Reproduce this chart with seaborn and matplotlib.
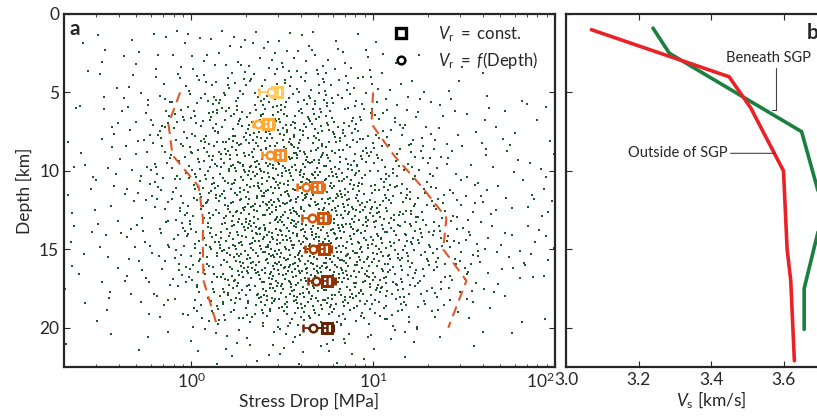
import numpy as np
import pandas as pd
import seaborn as sns
import matplotlib.pyplot as plt
from matplotlib.lines import Line2D

# ---- panel a: event cloud, counts per cell ----
# columns: 0.2-decade bins of log10(stress drop / MPa), rows: 2 km depth bins
sd_edges = [-0.7, -0.5, -0.3, -0.1, 0.1, 0.3, 0.5, 0.7, 0.9, 1.1, 1.3, 1.5, 1.7, 1.9, 2.0]
depth_edges = [1, 3, 5, 7, 9, 11, 13, 15, 17, 19, 21, 23]
counts = [
    [2, 3, 4, 5, 7, 8, 8, 5, 2, 1, 0, 0, 0, 0],
    [2, 4, 6, 9, 14, 18, 18, 14, 8, 4, 2, 2, 1, 0],
    [3, 5, 9, 15, 24, 30, 30, 24, 14, 8, 5, 4, 3, 1],
    [3, 6, 12, 22, 34, 40, 40, 32, 20, 12, 7, 5, 3, 1],
    [3, 6, 12, 22, 36, 46, 48, 40, 30, 18, 10, 6, 4, 2],
    [3, 5, 10, 20, 36, 48, 52, 48, 38, 26, 16, 8, 5, 3],
    [3, 5, 10, 20, 38, 50, 54, 50, 40, 28, 18, 10, 6, 3],
    [3, 5, 9, 18, 38, 52, 56, 52, 42, 30, 20, 11, 6, 3],
    [2, 4, 7, 12, 30, 44, 50, 46, 36, 22, 12, 6, 3, 2],
    [1, 2, 3, 6, 10, 14, 16, 15, 10, 6, 3, 2, 1, 0],
    [0, 0, 0, 1, 2, 3, 3, 3, 2, 1, 0, 0, 0, 0],
]

# binned medians (two rupture-velocity models)
bin_depth = [5, 7, 9, 11, 13, 15, 17, 20]
circ_sd = [2.73, 2.34, 2.70, 4.26, 4.60, 4.65, 4.84, 4.65]
sq_sd = [2.95, 2.66, 3.06, 4.90, 5.30, 5.36, 5.60, 5.56]
lo_sd = [2.37, 2.20, 2.44, 3.80, 4.09, 4.20, 4.40, 4.14]
hi_sd = [3.14, 2.87, 3.30, 5.40, 5.80, 5.85, 6.16, 6.00]

# dashed envelopes
left_env = [0.87, 0.75, 0.79, 1.10, 1.16, 1.16, 1.17, 1.40]
right_env = [10.0, 9.8, 13.0, 18.5, 25.3, 24.3, 32.6, 25.9]

# ---- panel b: velocity profiles ----
out_depth = [1.0, 4.0, 6.0, 10.0, 15.0, 17.0, 22.1]
out_vs = [3.07, 3.45, 3.51, 3.60, 3.61, 3.62, 3.63]
sgp_depth = [0.9, 2.5, 7.5, 12.5, 17.5, 20.1]
sgp_vs = [3.24, 3.285, 3.65, 3.71, 3.657, 3.657]


def halton(n, base):
    # radical inverse of 1..n in the given base
    out = np.zeros(n)
    idx = np.arange(1, n + 1)
    f = 1.0
    while idx.max() > 0:
        f /= base
        out += f * (idx % base)
        idx //= base
    return out


# turn the counts into a density map and thin a Halton sequence with it,
# so the dots follow the read-off density
sd_e = np.array(sd_edges)
dp_e = np.array(depth_edges, dtype=float)
dens = np.array(counts) / (np.diff(sd_e)[None, :] * np.diff(dp_e)[:, None])
cx = (sd_e[:-1] + sd_e[1:]) / 2
cy = (dp_e[:-1] + dp_e[1:]) / 2

area = (sd_e[-1] - sd_e[0]) * (dp_e[-1] - dp_e[0])
n_cand = int(dens.max() * area)
lx = sd_e[0] + halton(n_cand + 50, 2)[50:] * (sd_e[-1] - sd_e[0])
dd = dp_e[0] + halton(n_cand + 50, 3)[50:] * (dp_e[-1] - dp_e[0])
w = halton(n_cand + 50, 7)[50:]

fi = np.interp(lx, cx, np.arange(len(cx)))
fj = np.interp(dd, cy, np.arange(len(cy)))
i0 = np.clip(np.floor(fi).astype(int), 0, len(cx) - 2)
j0 = np.clip(np.floor(fj).astype(int), 0, len(cy) - 2)
ti = fi - i0
tj = fj - j0
d_here = (dens[j0, i0] * (1 - ti) * (1 - tj) + dens[j0, i0 + 1] * ti * (1 - tj)
          + dens[j0 + 1, i0] * (1 - ti) * tj + dens[j0 + 1, i0 + 1] * ti * tj)
keep = w < d_here / dens.max()
events = pd.DataFrame({"stress_drop": 10 ** lx[keep], "depth": dd[keep]})

sns.set_style("ticks")
plt.rcParams["font.family"] = ["Lato", "DejaVu Sans"]
plt.rcParams["mathtext.fontset"] = "custom"
plt.rcParams["mathtext.rm"] = "Lato"
plt.rcParams["mathtext.it"] = "Lato:italic"
plt.rcParams["axes.linewidth"] = 1.6

fig = plt.figure(figsize=(8.17, 4.2), dpi=100)
ax = fig.add_axes([64 / 817, 53 / 420, 491 / 817, 353 / 420])
axb = fig.add_axes([566 / 817, 53 / 420, 290 / 817, 353 / 420])

sns.scatterplot(data=events, x="stress_drop", y="depth", ax=ax, marker="s",
                s=4.6, color="#1a5a29", linewidth=0, legend=False, zorder=1)

ax.plot(left_env, bin_depth, ls=(0, (5, 3)), color="#e2572b", lw=1.5, zorder=2)
ax.plot(right_env, bin_depth, ls=(0, (5, 3)), color="#e2572b", lw=1.5, zorder=2)

cols = sns.color_palette("YlOrBr", as_cmap=True)(np.linspace(0.35, 1.0, len(bin_depth)))
for k, d in enumerate(bin_depth):
    c = cols[k]
    ax.errorbar(circ_sd[k], d, xerr=[[circ_sd[k] - lo_sd[k]], [sq_sd[k] - circ_sd[k]]],
                fmt="o", ms=5.5, mfc="white", mec=c, mew=1.8, ecolor=c, elinewidth=1.3,
                capsize=3, capthick=1.3, zorder=4)
    ax.errorbar(sq_sd[k], d, xerr=[[sq_sd[k] - circ_sd[k]], [hi_sd[k] - sq_sd[k]]],
                fmt="s", ms=7, mfc="white", mec=c, mew=2.2, ecolor=c, elinewidth=1.3,
                capsize=3, capthick=1.3, zorder=3)

ax.set_xscale("log")
ax.set_xlim(0.2, 100)
ax.set_ylim(22.5, 0)
ax.set_xticks([1, 10, 100], labels=[r"$10^0$", r"$10^1$", r"$10^2$"])
ax.get_xticklabels()[2].set_ha("right")
ax.set_yticks([0, 5, 10, 15, 20])
ax.set_xlabel("Stress Drop [MPa]", fontsize=12.5, labelpad=1)
ax.set_ylabel("Depth [km]", fontsize=12.5)
ax.tick_params(which="both", direction="in", top=True, right=True, labelsize=12.5)
ax.tick_params(which="major", length=4)
ax.tick_params(which="minor", length=2.5)
ax.text(0.012, 0.985, "a", transform=ax.transAxes, fontsize=15, fontweight="bold",
        va="top", ha="left")

handles = [
    Line2D([], [], marker="s", ls="none", ms=7, mfc="white", mec="black", mew=2.4),
    Line2D([], [], marker="o", ls="none", ms=5.5, mfc="white", mec="black", mew=1.8),
]
leg = ax.legend(handles, [r"$V_\mathrm{r}\ =\ \mathrm{const.}$", r"$V_\mathrm{r}\ =\ f(\mathrm{Depth})$"],
                loc="upper right", frameon=False, fontsize=12, handletextpad=1.2,
                borderaxespad=0.2, labelspacing=0.35, bbox_to_anchor=(0.985, 1.0))
leg.set_zorder(5)

sns.lineplot(x=sgp_vs, y=sgp_depth, sort=False, estimator=None, ax=axb,
             color="#1a8040", lw=2.6)
sns.lineplot(x=out_vs, y=out_depth, sort=False, estimator=None, ax=axb,
             color="#ea2227", lw=2.6)
axb.set_xlim(3.0, 3.8)
axb.set_ylim(22.5, 0)
axb.set_xticks([3.0, 3.2, 3.4, 3.6])
axb.set_yticks([0, 5, 10, 15, 20])
axb.set_yticklabels([])
axb.tick_params(direction="in", top=True, labelsize=12.5, length=4)
axb.set_xlabel(r"$V_\mathrm{s}$ [km/s]", fontsize=12.5, labelpad=1)
axb.set_ylabel("")

axb.annotate("Beneath SGP", xy=(3.567, 6.1), xytext=(3.44, 2.8), fontsize=10.5,
             ha="left", va="center",
             arrowprops=dict(arrowstyle="-", color="#444444", lw=0.8,
                             connectionstyle="angle,angleA=90,angleB=0,rad=0",
                             shrinkA=0, shrinkB=0, relpos=(0.6, 0)))
axb.annotate("Outside of SGP", xy=(3.577, 8.88), xytext=(3.445, 8.88), fontsize=10.5,
             ha="right", va="center",
             arrowprops=dict(arrowstyle="-", color="#444444", lw=0.8,
                             shrinkA=0, shrinkB=0, relpos=(1, 0.5)))
axb.text(0.83, 0.975, "b", transform=axb.transAxes, fontsize=15, fontweight="bold",
         va="top", ha="left")

fig.savefig("out.png", dpi=100)
